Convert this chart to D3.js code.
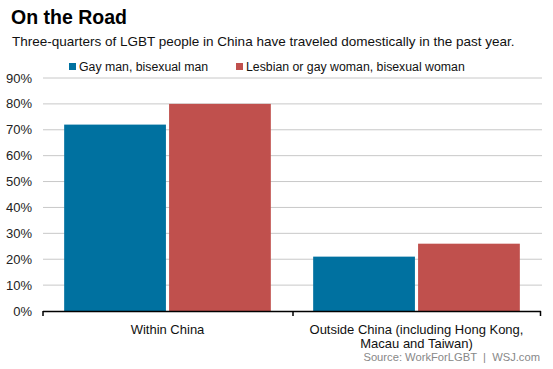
<!DOCTYPE html>
<html><head><meta charset="utf-8">
<script src="https://cdn.jsdelivr.net/npm/d3@7"></script>
<style>body{margin:0;background:#fff}svg{display:block;font-family:"Liberation Sans",Arial,sans-serif}</style>
</head><body>
<script>
const categories = [["Within China"], ["Outside China (including Hong Kong,", "Macau and Taiwan)"]];
const categoryKeys = ["Within China", "Outside China"];
const seriesNames = ["Gay man, bisexual man", "Lesbian or gay woman, bisexual woman"];
const seriesColors = ["#0071a0", "#c0504d"];
const gayMen = [72, 21];
const lesbianWomen = [80, 26];
const yTicks = [0, 10, 20, 30, 40, 50, 60, 70, 80, 90];

const W = 553, H = 369;
const svg = d3.select("body").append("svg").attr("width", W).attr("height", H);
const x0 = d3.scaleBand().domain(categoryKeys).range([43, 541]).paddingInner(0.17).paddingOuter(0.085);
const x1 = d3.scaleBand().domain([0, 1]).range([0, x0.bandwidth()]).paddingInner(0.03);
const y = d3.scaleLinear().domain([0, 90]).range([311, 78]);

svg.append("text").attr("x", 11).attr("y", 24).attr("font-size", 19.5).attr("font-weight", "bold").attr("fill", "#000").text("On the Road");
svg.append("text").attr("x", 12).attr("y", 46).attr("font-size", 13.5).attr("fill", "#111").text("Three-quarters of LGBT people in China have traveled domestically in the past year.");

// gridlines
svg.append("g").selectAll("line").data(yTicks.filter(d => d > 0)).join("line")
  .attr("x1", 43).attr("x2", 542).attr("y1", d => y(d)).attr("y2", d => y(d))
  .attr("stroke", "#c8c8c8").attr("stroke-width", 1);

// y labels
svg.append("g").selectAll("text").data(yTicks).join("text")
  .attr("x", 32).attr("y", d => y(d) + 4.5).attr("text-anchor", "end").attr("font-size", 13).attr("fill", "#222")
  .text(d => d + "%");

// bars
const vals = [gayMen, lesbianWomen];
categoryKeys.forEach((c, ci) => {
  vals.forEach((s, si) => {
    svg.append("rect").attr("x", x0(c) + x1(si)).attr("width", x1.bandwidth())
      .attr("y", y(s[ci])).attr("height", y(0) - y(s[ci])).attr("fill", seriesColors[si]);
  });
});

// x axis
svg.append("line").attr("x1", 43).attr("x2", 541).attr("y1", 311.5).attr("y2", 311.5).attr("stroke", "#000").attr("stroke-width", 1.5);
[43, 293, 540.5].forEach(t => svg.append("line").attr("x1", t).attr("x2", t).attr("y1", 311).attr("y2", 316).attr("stroke", "#000").attr("stroke-width", 1.5));

// category labels
categoryKeys.forEach((c, ci) => {
  const t = svg.append("text").attr("x", x0(c) + x0.bandwidth() / 2).attr("y", 334).attr("text-anchor", "middle").attr("font-size", 13).attr("fill", "#111");
  categories[ci].forEach((line, li) => t.append("tspan").attr("x", x0(c) + x0.bandwidth() / 2).attr("dy", li ? 14 : 0).text(line));
});

// legend
const lx = [69, 236];
seriesNames.forEach((n, i) => {
  svg.append("rect").attr("x", lx[i]).attr("y", 63).attr("width", 7).attr("height", 7).attr("fill", seriesColors[i]);
  svg.append("text").attr("x", lx[i] + 10).attr("y", 71).attr("font-size", 12.3).attr("fill", "#111").text(n);
});

svg.append("text").attr("x", 540).attr("y", 361).attr("text-anchor", "end").attr("font-size", 11.2).attr("fill", "#888")
  .style("white-space", "pre").text("Source: WorkForLGBT  |  WSJ.com");
</script>
</body></html>
